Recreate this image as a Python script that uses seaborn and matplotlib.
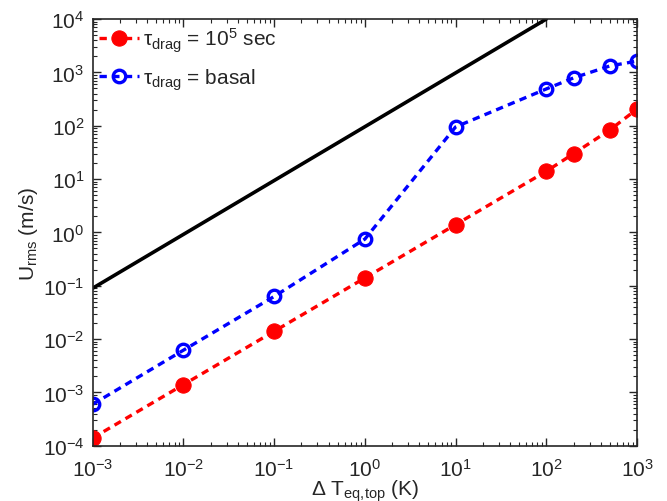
import numpy as np
import pandas as pd
import matplotlib
matplotlib.use("Agg")
import matplotlib.pyplot as plt
import seaborn as sns

# data
dT = [1e-3, 1e-2, 1e-1, 1e0, 1e1, 1e2, 2e2, 5e2, 1e3]
u_tau5 = [1.4e-4, 1.4e-3, 1.4e-2, 0.14, 1.4, 14, 30, 83, 205]
u_basal = [6e-4, 6.2e-3, 6.3e-2, 0.75, 95, 490, 790, 1320, 1630]
ref_x = [1e-3, 1e2]
ref_y = [9e-2, 9e3 * 1.111]

sns.set_style("ticks")
plt.rcParams['font.family'] = ['Liberation Sans', 'DejaVu Sans']
plt.rcParams['mathtext.fontset'] = 'custom'
plt.rcParams['mathtext.rm'] = 'Liberation Sans'
plt.rcParams['mathtext.it'] = 'Liberation Sans'
plt.rcParams['mathtext.bf'] = 'Liberation Sans:bold'

df = pd.DataFrame({'dT': dT + dT,
                   'u': u_tau5 + u_basal,
                   'case': ['tau5'] * len(dT) + ['basal'] * len(dT)})

fig = plt.figure(figsize=(6.67, 5.02), dpi=100)
ax = fig.add_axes([0.139, 0.110, 0.816, 0.850])

sns.lineplot(x=ref_x, y=ref_y, ax=ax, color='black', lw=2.6, legend=False)
sns.lineplot(data=df[df.case == 'tau5'], x='dT', y='u', ax=ax, color='red',
             lw=2.4, ls=(0, (2.2, 1.6)), marker='o', markersize=11,
             markeredgecolor='red', label=r'$\tau_{\rm drag}$ = 10$^5$ sec')
sns.lineplot(data=df[df.case == 'basal'], x='dT', y='u', ax=ax, color='blue',
             lw=2.4, ls=(0, (2.2, 1.6)), marker='o', markersize=9,
             markerfacecolor='none', markeredgecolor='blue', markeredgewidth=2.4,
             label=r'$\tau_{\rm drag}$ = basal')

ax.set_xscale('log')
ax.set_yscale('log')
ax.set_xlim(1e-3, 1e3)
ax.set_ylim(1e-4, 1e4)
ax.set_xticks([10.0 ** k for k in range(-3, 4)])
ax.set_yticks([10.0 ** k for k in range(-4, 5)])
ax.xaxis.set_minor_locator(matplotlib.ticker.LogLocator(base=10, subs=np.arange(2, 10), numticks=20))
ax.yaxis.set_minor_locator(matplotlib.ticker.LogLocator(base=10, subs=np.arange(2, 10), numticks=20))
ax.xaxis.set_minor_formatter(matplotlib.ticker.NullFormatter())
ax.yaxis.set_minor_formatter(matplotlib.ticker.NullFormatter())
ax.tick_params(which='both', direction='in', top=True, right=True, labelsize=15)
ax.tick_params(which='major', length=6, width=1)
ax.tick_params(which='minor', length=3, width=0.8)
ax.tick_params(axis='x', which='major', pad=9)
ax.tick_params(axis='y', which='major', pad=6)
for s in ax.spines.values():
    s.set_linewidth(1.2)

ax.set_xlabel(r'$\Delta$ T$_{\rm eq{,}top}$ (K)', fontsize=15, labelpad=-2)
ax.set_ylabel(r'U$_{\rm rms}$ (m/s)', fontsize=15, labelpad=2)

leg = ax.legend(loc='upper left', frameon=False, fontsize=15, handlelength=1.9,
                handletextpad=0.2, borderaxespad=0.0, borderpad=0.3, labelspacing=0.6)

fig.savefig('out.png', dpi=100)
